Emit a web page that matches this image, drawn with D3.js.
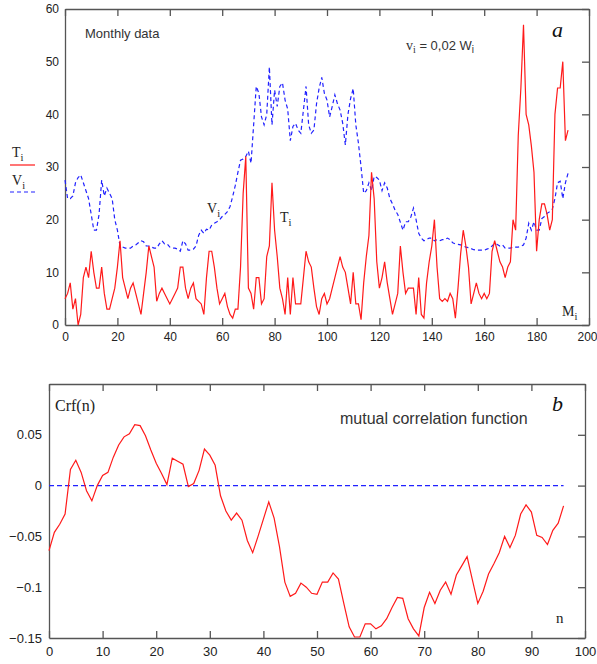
<!DOCTYPE html>
<html>
<head>
<meta charset="utf-8">
<script src="https://cdn.jsdelivr.net/npm/d3@7"></script>
<style>
  body { margin: 0; background: #fff; }
  .axis text { font-family: "Liberation Sans", Arial, sans-serif; fill: #222; }
  .axis path, .axis line { stroke: #555; stroke-width: 1.3; }
</style>
</head>
<body>
<div id="chart"></div>
<script>
// monthly series, i = 0..192
const tempT = [
  5, 6, 8, 3, 5, 0, 2, 9, 11, 9,
  14, 10, 7, 7, 11, 6, 3, 3, 5, 7,
  11, 16, 9, 7, 5, 7, 8, 6, 4, 2,
  6, 10, 15, 13, 11, 4.5, 6, 7, 6, 5,
  4, 5, 6, 7, 11, 11, 7, 5, 7, 8,
  5, 4.5, 4, 2, 9, 14, 14, 11, 7, 4,
  5, 6, 3.5, 2, 1.3, 3, 3, 11, 25, 32,
  7, 6, 3, 9, 9, 4, 5, 13, 15, 27,
  18, 13, 7, 5, 2, 9, 2, 9, 4, 4,
  4, 9, 14, 12, 11, 7, 3.5, 2, 5, 6,
  4, 5, 7, 9, 11, 13, 11, 10, 7, 4,
  10, 4, 4, 1, 8, 13, 17, 29, 24, 12,
  7, 9, 12, 8, 5, 2, 4, 6, 15, 10,
  6, 7, 7, 7, 2, 9, 2, 1.3, 8, 12,
  15, 20, 11, 5, 4.5, 5, 4.5, 6, 5, 1.3,
  7, 13.5, 18, 15, 11, 4, 6, 8, 6, 5,
  6, 5, 6, 14, 16, 14, 12, 11, 9, 11,
  12, 20, 18, 36, 45, 57, 40, 38, 34, 29,
  14, 20, 23, 23, 21, 18, 20, 40, 45, 45,
  50, 35, 37
];
const velV = [
  27.5, 24, 24, 24.5, 27, 28, 28.5, 27, 25.5, 24,
  21, 18, 18, 21, 27.5, 24.5, 26, 25, 24, 20,
  18, 15, 14.8, 14.6, 14.6, 14.6, 15, 15.2, 15.6, 16,
  15.8, 15, 15, 14.8, 14.6, 14.6, 15.4, 16, 15.4, 15.4,
  14.8, 14.6, 14.6, 14.4, 14, 16, 15.4, 14.2, 14.2, 14.4,
  15, 17, 18, 17.4, 18.2, 18, 19, 19.3, 19.6, 20,
  20.6, 21, 21.5, 22.5, 24.4, 26.5, 29, 31.3, 31.5, 32,
  33, 30.7, 38, 45.3, 44, 39.5, 38, 40, 49, 38,
  44.6, 41.5, 45.3, 46, 42.7, 41, 35, 37.7, 38.3, 37,
  36.4, 40.8, 45.3, 38, 36.4, 37, 42, 45, 47, 44,
  42.7, 39.5, 41.5, 43.7, 42, 40.8, 38.3, 34.2, 40, 43,
  44.9, 38, 34.5, 30, 25, 25.5, 27, 25.5, 28.2, 28,
  27.5, 25.5, 27, 26, 24, 23, 21.8, 21, 19.5, 18,
  19.6, 19.6, 20.5, 22.2, 20, 17.4, 16.5, 16, 16.2, 16.5,
  16.5, 16, 16.2, 16, 16.2, 16.2, 16.5, 16.2, 15.6, 15.4,
  15.3, 15.2, 15, 14.8, 14.7, 14.5, 14.3, 14.2, 14.2, 14.2,
  14.2, 14.4, 14.6, 15, 15.5, 15.3, 15, 15.2, 14.6, 14.6,
  14.6, 14.8, 14.8, 14.8, 15, 15.2, 16.5, 19.3, 18, 19.6,
  18, 18, 20.2, 20.6, 21.2, 21.5, 22, 24, 27, 27.3,
  24, 27, 28.8
];
// mutual correlation function, n = 0..96
const crf = [
  -0.064, -0.046, -0.038, -0.028, 0.016, 0.025, 0.013, -0.005, -0.015, 0,
  0.01, 0.013, 0.028, 0.04, 0.048, 0.051, 0.06, 0.059, 0.049, 0.035,
  0.022, 0.012, 0.001, 0.027, 0.024, 0.021, -0.001, 0.002, 0.015, 0.036,
  0.03, 0.02, -0.01, -0.025, -0.034, -0.027, -0.034, -0.054, -0.066, -0.05,
  -0.033, -0.016, -0.032, -0.06, -0.095, -0.109, -0.106, -0.096, -0.1, -0.106,
  -0.107, -0.095, -0.095, -0.086, -0.092, -0.116, -0.139, -0.149, -0.149, -0.136,
  -0.136, -0.141, -0.138, -0.131, -0.12, -0.11, -0.111, -0.131, -0.141, -0.148,
  -0.12, -0.105, -0.116, -0.103, -0.095, -0.107, -0.088, -0.079, -0.07, -0.093,
  -0.116, -0.104, -0.087, -0.077, -0.066, -0.05, -0.061, -0.049, -0.028, -0.019,
  -0.026, -0.049, -0.051, -0.058, -0.044, -0.037, -0.02
];
const zeroLine = [0, 96];

const monthTicks = d3.range(0, 201, 20);
const valueTicks = d3.range(0, 61, 10);
const lagTicks = d3.range(0, 101, 10);
const crfTicks = [-0.15, -0.1, -0.05, 0, 0.05];

const width = 597;
const height = 664;
const red = "#ff1a1a";
const blue = "#2222ff";

const svg = d3.select("#chart")
  .append("svg")
  .attr("width", width)
  .attr("height", height);

// ---------- panel a ----------
const xA = d3.scaleLinear().domain([0, 200]).range([65, 589]);
const yA = d3.scaleLinear().domain([0, 60]).range([325, 9]);

svg.append("g").attr("class", "axis")
  .attr("transform", "translate(0,325)")
  .call(d3.axisBottom(xA).tickValues(monthTicks).tickSize(-7).tickSizeOuter(0).tickPadding(7))
  .selectAll("text").style("font-size", "12px")
  .attr("dx", (d) => (d === 200 ? -2 : 0));
svg.append("g").attr("class", "axis")
  .attr("transform", "translate(0,9)")
  .call(d3.axisTop(xA).tickValues(monthTicks).tickSize(-7).tickSizeOuter(0).tickFormat(""));
svg.append("g").attr("class", "axis")
  .attr("transform", "translate(65,0)")
  .call(d3.axisLeft(yA).tickValues(valueTicks).tickSize(0).tickPadding(6))
  .selectAll("text").style("font-size", "12px");
svg.append("g").attr("class", "axis")
  .attr("transform", "translate(589,0)")
  .call(d3.axisRight(yA).tickValues(valueTicks).tickSize(-7).tickSizeOuter(0).tickFormat(""));

const lineA = (arr) => d3.line().x((d, i) => xA(i)).y((d) => yA(d))(arr);

svg.append("path")
  .attr("d", lineA(velV))
  .attr("fill", "none")
  .attr("stroke", blue)
  .attr("stroke-width", 1.2)
  .attr("stroke-dasharray", "4,3");

svg.append("path")
  .attr("d", lineA(tempT))
  .attr("fill", "none")
  .attr("stroke", red)
  .attr("stroke-width", 1.2);

// labels, panel a
function subLabel(g, x, y, main, sub, size, family) {
  const t = g.append("text").attr("x", x).attr("y", y)
    .style("font-family", family).style("font-size", size + "px").attr("fill", "#222");
  t.append("tspan").text(main);
  t.append("tspan").attr("dy", size * 0.3).style("font-size", (size * 0.75) + "px").text(sub);
  return t;
}
const serif = '"Liberation Serif", "Times New Roman", serif';
const sans = '"Liberation Sans", Arial, sans-serif';

svg.append("text").attr("x", 85).attr("y", 38)
  .style("font-family", sans).style("font-size", "13px").attr("fill", "#333")
  .text("Monthly data");

const formula = svg.append("text").attr("x", 406).attr("y", 50)
  .style("font-family", sans).style("font-size", "13px").attr("fill", "#333");
formula.append("tspan").style("font-family", serif).style("font-size", "14px").text("v");
formula.append("tspan").attr("dy", 3).style("font-size", "10px").style("font-family", serif).text("i");
formula.append("tspan").attr("dy", -3).text(" = 0,02  W");
formula.append("tspan").attr("dy", 3).style("font-size", "10px").text("i");

svg.append("text").attr("x", 552).attr("y", 37)
  .style("font-family", serif).style("font-style", "italic").style("font-size", "22px")
  .attr("fill", "#111").text("a");

subLabel(svg, 207, 213, "V", "i", 14, serif);
subLabel(svg, 280, 222, "T", "i", 14, serif);
subLabel(svg, 562, 316, "M", "i", 14, serif);

// legend
subLabel(svg, 12, 157, "T", "i", 14, serif);
svg.append("line").attr("x1", 10).attr("x2", 35).attr("y1", 165).attr("y2", 165)
  .attr("stroke", red).attr("stroke-width", 1.2);
subLabel(svg, 12, 185, "V", "i", 14, serif);
svg.append("line").attr("x1", 10).attr("x2", 35).attr("y1", 192).attr("y2", 192)
  .attr("stroke", blue).attr("stroke-width", 1.2).attr("stroke-dasharray", "4,3");

// ---------- panel b ----------
const xB = d3.scaleLinear().domain([0, 100]).range([49, 585]);
const yB = d3.scaleLinear().domain([-0.15, 0.1]).range([638, 384]);

svg.append("g").attr("class", "axis")
  .attr("transform", "translate(0,638)")
  .call(d3.axisBottom(xB).tickValues(lagTicks).tickSize(-7).tickSizeOuter(0).tickPadding(9))
  .selectAll("text").style("font-size", "13px");
svg.append("g").attr("class", "axis")
  .attr("transform", "translate(0,384)")
  .call(d3.axisTop(xB).tickValues(lagTicks).tickSize(-7).tickSizeOuter(0).tickFormat(""));
svg.append("g").attr("class", "axis")
  .attr("transform", "translate(49,0)")
  .call(d3.axisLeft(yB).tickValues(crfTicks).tickSize(0).tickPadding(7)
    .tickFormat((d) => (d === 0 ? "0" : d3.format("")(d))))
  .selectAll("text").style("font-size", "13px");
svg.append("g").attr("class", "axis")
  .attr("transform", "translate(585,0)")
  .call(d3.axisRight(yB).tickValues(crfTicks).tickSize(-7).tickSizeOuter(0).tickFormat(""));

svg.append("path")
  .attr("d", d3.line().x((d) => xB(d)).y(() => yB(0))(zeroLine))
  .attr("fill", "none")
  .attr("stroke", blue)
  .attr("stroke-width", 1.2)
  .attr("stroke-dasharray", "5,3");

svg.append("path")
  .attr("d", d3.line().x((d, i) => xB(i)).y((d) => yB(d))(crf))
  .attr("fill", "none")
  .attr("stroke", red)
  .attr("stroke-width", 1.2);

svg.append("text").attr("x", 55).attr("y", 411)
  .style("font-family", serif).style("font-size", "16px").attr("fill", "#222")
  .text("Crf(n)");
svg.append("text").attr("x", 340).attr("y", 424)
  .style("font-family", sans).style("font-size", "16px").attr("fill", "#333")
  .text("mutual correlation function");
svg.append("text").attr("x", 552).attr("y", 411)
  .style("font-family", serif).style("font-style", "italic").style("font-size", "22px")
  .attr("fill", "#111").text("b");
svg.append("text").attr("x", 556).attr("y", 623)
  .style("font-family", serif).style("font-size", "15px").attr("fill", "#222")
  .text("n");
</script>
</body>
</html>
